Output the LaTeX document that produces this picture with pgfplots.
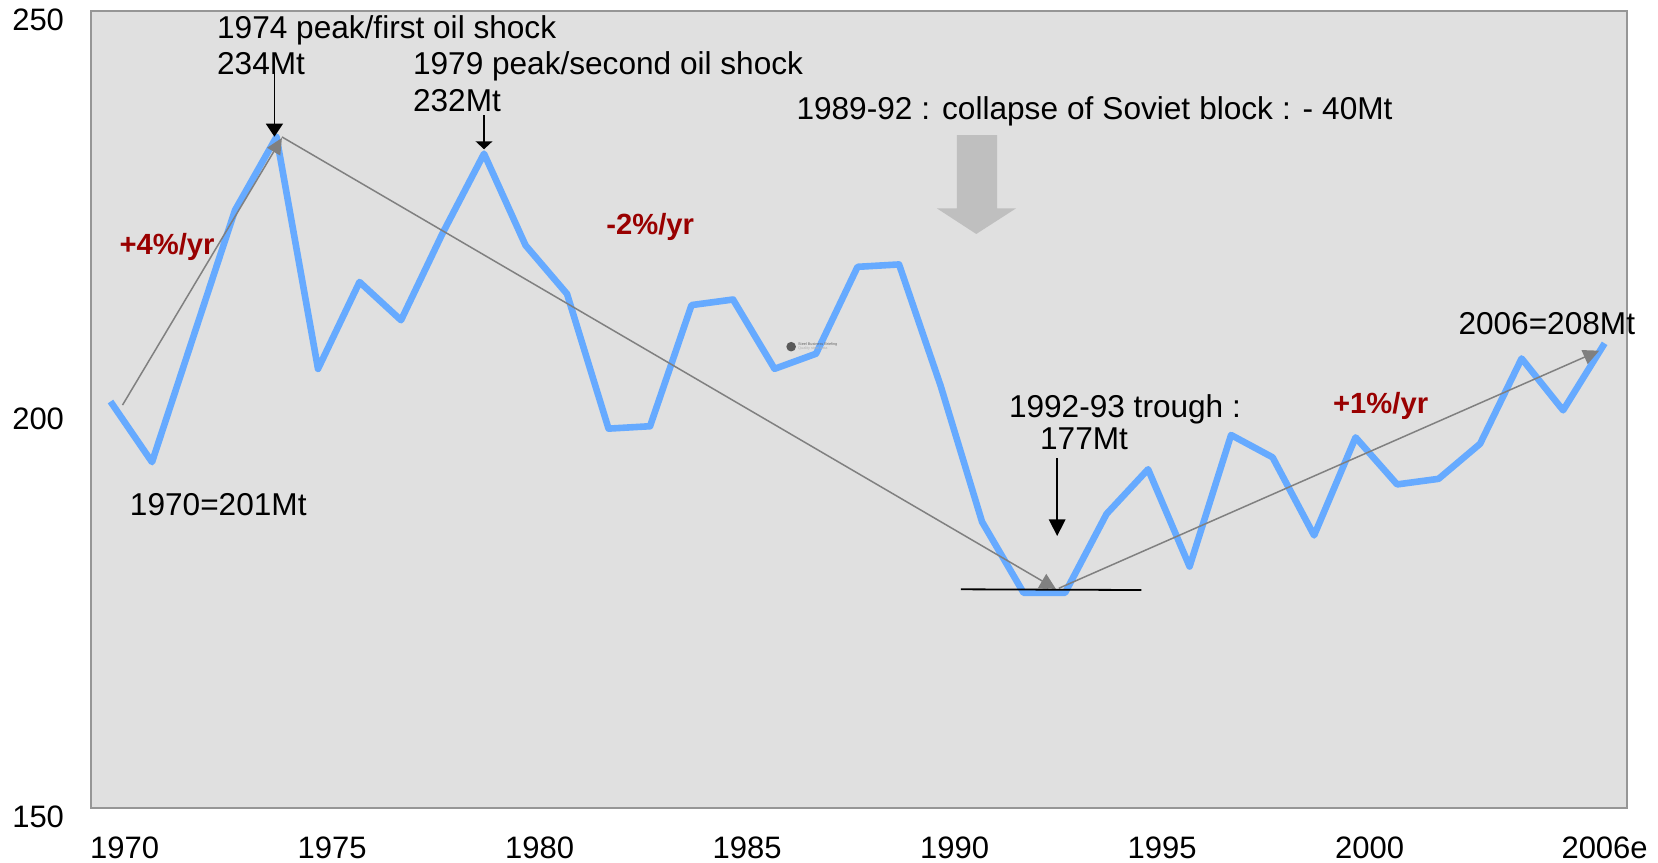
\documentclass[border=0pt]{standalone}
\usepackage{fontspec}
\setmainfont{Liberation Sans}
\usepackage{pgfplots}
\usepackage{pgfplotstable}
\pgfplotsset{compat=1.18}
\usetikzlibrary{arrows.meta}
\definecolor{lineblue}{RGB}{102,170,255}
\definecolor{bggray}{RGB}{224,224,224}
\definecolor{framegray}{RGB}{150,150,150}
\definecolor{darkred}{RGB}{153,0,0}
\definecolor{arrowgray}{RGB}{191,191,191}
\definecolor{trendgray}{RGB}{128,128,128}
\tikzset{
  txt/.style={font=\fontsize{15.8}{18}\selectfont, inner sep=0pt, anchor=base west},
  rtxt/.style={font=\fontsize{14.6}{17}\selectfont\bfseries, text=darkred, inner sep=0pt, anchor=base west},
}

\pgfplotstableread{
year value
1970 201.0
1971 193.4
1972 209.2
1973 225.0
1974 234.2
1975 205.1
1976 216.0
1977 211.2
1978 222.1
1979 232.1
1980 220.6
1981 214.5
1982 197.6
1983 197.9
1984 213.1
1985 213.8
1986 205.1
1987 207.0
1988 217.9
1989 218.2
1990 203.0
1991 185.9
1992 177.0
1993 177.0
1994 186.9
1995 192.5
1996 180.3
1997 196.8
1998 194.0
1999 184.2
2000 196.5
2001 190.6
2002 191.3
2003 195.7
2004 206.4
2005 199.9
2006 208.3
}\steeldata

\begin{document}
\begin{tikzpicture}
\path[use as bounding box] (0,0) rectangle (829pt,431pt);
\begin{axis}[
  at={(45.5pt,27pt)}, anchor=south west,
  scale only axis, width=768pt, height=398.5pt,
  xmin=1969.53, xmax=2006.54, ymin=150, ymax=250,
  axis background/.style={fill=bggray},
  axis line style={draw=framegray, line width=0.9pt},
  xtick={1970.34,1975.34,1980.34,1985.34,1990.34,1995.34,2000.34,2006},
  xticklabels={1970,1975,1980,1985,1990,1995,2000,2006e},
  ytick={150,200,250},
  yticklabels={150,200,250},
  major tick length=0pt,
  tick label style={font=\fontsize{15.5}{18}\selectfont, inner sep=0pt},
  xticklabel style={anchor=north, yshift=-14pt},
  yticklabel style={anchor=east, xshift=-13.3pt, yshift=-4.5pt},
  clip=false,
  /pgf/number format/assume math mode=true,
]
\addplot[lineblue, line width=3.3pt, line join=round, mark=none] table[x=year, y=value]{\steeldata};

% big gray block arrow
\fill[arrowgray] (1990.39,234.44) -- (1991.36,234.44) -- (1991.36,225.24) -- (1991.82,225.24)
  -- (1990.86,222.02) -- (1989.91,225.24) -- (1990.39,225.24) -- cycle;

% trend lines
\draw[trendgray, line width=0.75pt, -{Triangle[length=8pt,width=7.5pt]}] (1970.29,200.56) -- (1974.13,234.07);
\draw[trendgray, line width=0.75pt, -{Triangle[length=8pt,width=8pt]}] (1974.13,234.2) -- (1992.78,177.48);
\draw[trendgray, line width=0.75pt, -{Triangle[length=8pt,width=7.5pt]}] (1992.85,177.57) -- (2005.87,207.38);

% trough baseline
\draw[black, line width=0.9pt] (1990.49,177.44) -- (1994.84,177.35);

% black pointer arrows
\draw[black, line width=0.75pt, -{Triangle[length=6.5pt,width=8.5pt]}] (1973.95,242.38) -- (1973.95,234.23);
\draw[black, line width=0.75pt, -{Triangle[length=4pt,width=8.4pt]}] (1979.0,236.95) -- (1979.0,232.65);
\draw[black, line width=0.75pt, -{Triangle[length=8.3pt,width=8.3pt]}] (1992.81,193.88) -- (1992.81,184.13);

% texts
\node[txt] at (1972.56,246.55) {1974 peak/first oil shock};
\node[txt] at (1972.56,241.97) {234Mt};
\node[txt] at (1977.28,241.97) {1979 peak/second oil shock};
\node[txt] at (1977.28,237.39) {232Mt};
\node[txt] at (1986.52,236.41) {\spaceskip=4.5pt\relax 1989-92 : collapse of Soviet block : - 40Mt};
\node[txt] at (1970.46,186.64) {1970=201Mt};
\node[txt] at (1991.64,199.02) {1992-93 trough :};
\node[txt] at (1992.39,194.92) {177Mt};
\node[txt] at (2002.47,209.35) {2006=208Mt};
\node[rtxt] at (1970.21,219.47) {+4\%/yr};
\node[rtxt] at (1981.94,221.90) {-2\%/yr};
\node[rtxt] at (1999.45,199.44) {+1\%/yr};

% small logo
\fill[gray!70!black] (1986.40,207.88) circle[radius=2.4pt];
\node[inner sep=0pt, anchor=west, font=\fontsize{1.9}{2.2}\selectfont, text=gray!80!black, align=left] at (1986.56,207.95) {Steel Business Briefing\\[-0.3pt]{\color{gray!60}Quality steel data}};
\end{axis}
\end{tikzpicture}
\end{document}
